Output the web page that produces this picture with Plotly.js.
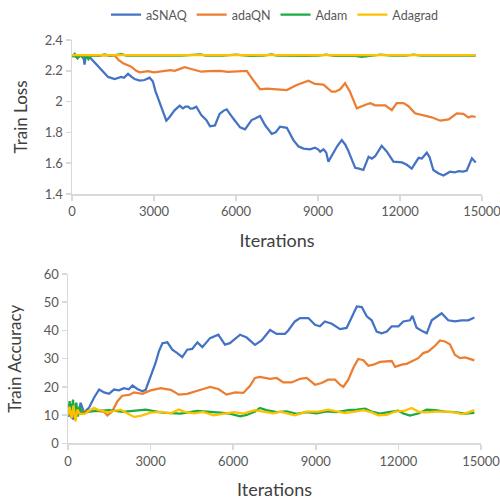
<!DOCTYPE html>
<html>
<head>
<meta charset="utf-8">
<script src="https://cdn.plot.ly/plotly-3.0.1.min.js"></script>
<style>html,body{margin:0;padding:0;background:#fff;}#chart{width:500px;height:503px;}</style>
</head>
<body>
<div id="chart"></div>
<script>
// ---- Data ----
var seriesNames = ["aSNAQ", "adaQN", "Adam", "Adagrad"];
var seriesColors = ["#4472C4", "#ED7D31", "#1AAB40", "#FFC000"];

// Train loss
var lossIterSNAQ = [0,150,300,420,460,500,590,800,950,1100,1320,1560,1700,1800,1900,2050,2180,2290,2480,2650,2840,2960,3050,3150,3270,3450,3550,3630,3760,3940,4060,4150,4250,4330,4430,4550,4730,4920,5050,5230,5400,5540,5660,5900,6150,6330,6450,6570,6700,6880,7060,7310,7450,7610,7860,7980,8100,8280,8470,8710,8890,9000,9080,9200,9300,9380,9560,9700,9870,10000,10110,10360,10500,10660,10850,10970,11090,11210,11330,11520,11760,12070,12250,12430,12680,12800,12980,13080,13220,13400,13590,13830,14000,14140,14320,14440,14630,14770];
var lossSNAQ = [2.30,2.29,2.30,2.29,2.24,2.29,2.30,2.26,2.227,2.20,2.16,2.147,2.155,2.16,2.155,2.18,2.16,2.147,2.136,2.14,2.155,2.13,2.07,2.02,1.956,1.876,1.895,1.913,1.945,1.973,1.956,1.967,1.967,1.955,1.956,1.967,1.913,1.88,1.84,1.845,1.92,1.94,1.95,1.89,1.833,1.82,1.85,1.88,1.89,1.906,1.848,1.79,1.80,1.837,1.83,1.79,1.75,1.71,1.695,1.69,1.70,1.69,1.675,1.69,1.67,1.61,1.67,1.71,1.75,1.72,1.68,1.57,1.565,1.556,1.642,1.63,1.645,1.68,1.713,1.675,1.61,1.605,1.59,1.565,1.635,1.63,1.668,1.64,1.556,1.535,1.52,1.545,1.54,1.548,1.545,1.552,1.632,1.605];

var lossIterAdaQN = [0,800,1560,1700,1870,2170,2350,2480,2780,3000,3150,3390,3600,3760,4120,4300,4490,4730,5000,5420,5700,6000,6390,6630,6880,7130,7490,7860,8220,8650,8890,9200,9500,9630,9810,9990,10170,10420,10720,10910,11090,11460,11700,11880,12130,12310,12550,12860,13160,13470,13780,14080,14320,14500,14630,14770];
var lossAdaQN = [2.30,2.30,2.30,2.27,2.249,2.227,2.20,2.19,2.198,2.19,2.194,2.20,2.205,2.20,2.223,2.215,2.205,2.194,2.198,2.20,2.193,2.195,2.20,2.14,2.08,2.085,2.08,2.075,2.108,2.136,2.115,2.11,2.064,2.064,2.08,2.119,2.064,1.956,1.978,1.99,1.976,1.975,1.945,1.99,1.99,1.97,1.924,1.912,1.898,1.876,1.885,1.924,1.92,1.897,1.905,1.90];

var lossIterAdam = [0,100,200,300,400,500,600,700,1000,1200,1400,1800,2000,2500,3000,4000,4700,4900,5500,6000,6500,7000,7300,7500,8500,9000,9300,9600,10300,10600,10900,11300,11700,12200,12500,12800,14000,14770];
var lossAdam = [2.29,2.31,2.28,2.30,2.285,2.30,2.275,2.30,2.298,2.306,2.297,2.308,2.298,2.298,2.297,2.298,2.306,2.298,2.298,2.305,2.297,2.298,2.306,2.298,2.297,2.298,2.305,2.297,2.298,2.29,2.297,2.305,2.298,2.298,2.305,2.298,2.298,2.298];

var lossIterAdagrad = [0,3000,6000,9000,12000,14770];
var lossAdagrad = [2.302,2.302,2.302,2.302,2.302,2.302];

// Train accuracy
var accIterSNAQ = [0,36,100,180,280,360,460,580,760,940,1130,1310,1490,1670,1850,2030,2210,2340,2520,2700,2820,3000,3180,3300,3430,3610,3790,3970,4150,4330,4510,4700,4880,5160,5460,5700,5880,6250,6490,6790,7030,7340,7580,7880,8000,8240,8430,8730,8970,9150,9330,9580,9880,10120,10300,10490,10670,10850,11030,11210,11390,11580,11760,12000,12180,12420,12510,12660,12900,13030,13210,13570,13810,14050,14300,14540,14760];
var accSNAQ = [10,9.6,14,8.5,13,10,14.4,11,12.6,16.1,19.1,18.1,17.6,19.1,18.8,19.6,19.2,20.5,19.3,18.5,19.0,23.8,28.5,32.6,35.5,35.8,33.2,32,30.6,33.2,33.5,35.8,34.1,37.3,38.5,35,35.5,38.5,37.5,34.9,36.5,40.2,38.8,38.8,40,43.2,44.4,44.4,42,41.5,43.2,42.4,40.5,40.9,44.9,48.5,48.3,45,43.6,39.6,39,39.6,41.5,41.5,43.2,43.6,45.2,41,39.6,39,43.6,46.1,43.6,43.2,43.6,43.6,44.6];

var accIterAdaQN = [0,100,200,300,580,1000,1310,1430,1610,1790,1970,2220,2400,2700,3000,3370,3730,4030,4330,4700,4910,5160,5460,5760,6070,6370,6610,6790,6970,7340,7580,7820,8120,8430,8670,8970,9210,9450,9700,9880,10000,10180,10360,10540,10730,10910,11090,11330,11580,11760,11880,12120,12300,12480,12720,12900,13090,13330,13510,13690,13870,14050,14240,14420,14600,14760];
var accAdaQN = [10,12,9.5,11,11.4,11.6,11.2,9.9,11.4,14.9,16.9,17.2,18.1,17.6,18.8,19.6,19.0,17.3,17.6,18.8,19.3,20,19.3,17.3,18.1,17.9,20.4,23.2,23.6,22.9,23.2,21.6,21.6,22.9,23.2,20.8,21.4,22.6,22.6,20.8,20,22.6,26.7,29.9,29.5,27.5,27.9,28.9,29,29.2,27.1,27.9,28.2,29,30.2,32,32.6,34.6,36.5,36.1,35.1,31.4,30.2,30.5,29.9,29.4];

var accIterAdam = [0,60,120,180,240,300,360,420,500,600,1000,1500,2000,2820,3430,4090,4700,5160,5520,5880,6250,6490,6790,6970,7200,7580,7940,8300,8670,9030,9390,9760,10180,10490,10790,11030,11330,11640,12000,12180,12420,12720,13030,13330,13690,14050,14420,14760];
var accAdam = [10,15,9,15.5,10,14.5,9.5,13,11,11,11.5,11.8,11.2,12,10.9,10.6,11.5,11.3,10.9,10.6,9.6,10.1,11.3,12.6,11.8,11.1,11.4,10.5,11.1,10.7,11.4,11.1,11.8,12,12.3,11.3,10.6,11.1,11.6,10.6,9.9,10.6,12,11.8,11.3,11.1,10.6,10.8];

var accIterAdagrad = [0,50,130,200,270,340,420,600,940,1070,1430,1670,1910,2090,2400,2640,3000,3370,3730,4030,4210,4570,4910,5280,5640,6010,6370,6790,7090,7460,7700,8240,8670,9090,9450,9760,10060,10420,10730,11030,11270,11580,11880,12240,12480,12720,12970,13330,13690,14050,14300,14540,14760];
var accAdagrad = [10,13,9,13.5,7.8,12,10.5,10.5,12.6,12,11,11.4,12,11,9.4,9.8,10.9,11.2,10.7,12,11.3,10.7,11.2,10,10.6,11.1,10.6,11.8,11.3,10.7,11.3,10,11.3,11.3,12,11.3,10.8,11.3,11.8,11,10,10.1,11.3,11.6,12.6,11.3,11,11.3,11.3,11,10.4,11,11.8];

var lossTicks = [1.4,1.6,1.8,2,2.2,2.4];
var accTicks = [0,10,20,30,40,50,60];
var iterTicks = [0,3000,6000,9000,12000,15000];

// ---- Traces ----
var lossX = [lossIterSNAQ, lossIterAdaQN, lossIterAdam, lossIterAdagrad];
var lossY = [lossSNAQ, lossAdaQN, lossAdam, lossAdagrad];
var accX = [accIterSNAQ, accIterAdaQN, accIterAdam, accIterAdagrad];
var accY = [accSNAQ, accAdaQN, accAdam, accAdagrad];

var traces = [];
for (var i = 0; i < 4; i++) {
  traces.push({x: lossX[i], y: lossY[i], type: 'scatter', mode: 'lines', name: seriesNames[i],
    legendgroup: seriesNames[i], line: {color: seriesColors[i], width: 2.25}, xaxis: 'x', yaxis: 'y'});
}
for (var j = 0; j < 4; j++) {
  traces.push({x: accX[j], y: accY[j], type: 'scatter', mode: 'lines', name: seriesNames[j],
    legendgroup: seriesNames[j], showlegend: false, line: {color: seriesColors[j], width: 2.25}, xaxis: 'x2', yaxis: 'y2'});
}

var FONT = 'Lato, "Open Sans", sans-serif';
var axCommon = {
  showgrid: false, zeroline: false, showline: true, linecolor: '#D9D9D9', linewidth: 1.5,
  ticks: 'outside', ticklen: 5, tickcolor: '#D9D9D9', tickwidth: 1.5,
  ticklabeloverflow: 'allow',
  tickfont: {family: FONT, size: 13, color: '#595959'}
};
function ax(extra) { var o = {}; for (var k in axCommon) o[k] = axCommon[k]; for (var k2 in extra) o[k2] = extra[k2]; return o; }

var layout = {
  width: 500, height: 503,
  margin: {l: 0, r: 0, t: 0, b: 0},
  paper_bgcolor: '#fff', plot_bgcolor: '#fff',
  font: {family: FONT, color: '#595959'},
  showlegend: true,
  legend: {orientation: 'h', x: 0.55, xanchor: 'center', y: 1.0, yanchor: 'top',
    font: {family: FONT, size: 12.5, color: '#595959'}, bgcolor: 'rgba(0,0,0,0)'},
  xaxis: ax({domain: [0.144, 0.964], range: [0, 15000], tickvals: iterTicks, tickformat: 'd', anchor: 'y',
    title: {text: 'Iterations', font: {family: FONT, size: 18, color: '#404040'}, standoff: 16}}),
  yaxis: ax({domain: [0.6143, 0.9205], range: [1.4, 2.4], tickvals: lossTicks, anchor: 'x',
    title: {text: 'Train Loss', font: {family: FONT, size: 17, color: '#404040'}, standoff: 13}}),
  xaxis2: ax({domain: [0.136, 0.962], range: [0, 15000], tickvals: iterTicks, tickformat: 'd', anchor: 'y2',
    title: {text: 'Iterations', font: {family: FONT, size: 18, color: '#404040'}, standoff: 16}}),
  yaxis2: ax({domain: [0.1183, 0.4553], range: [0, 60], tickvals: accTicks, anchor: 'x2',
    title: {text: 'Train Accuracy', font: {family: FONT, size: 17, color: '#404040'}, standoff: 18}})
};

Plotly.newPlot('chart', traces, layout, {displayModeBar: false, staticPlot: true});
</script>
</body>
</html>
